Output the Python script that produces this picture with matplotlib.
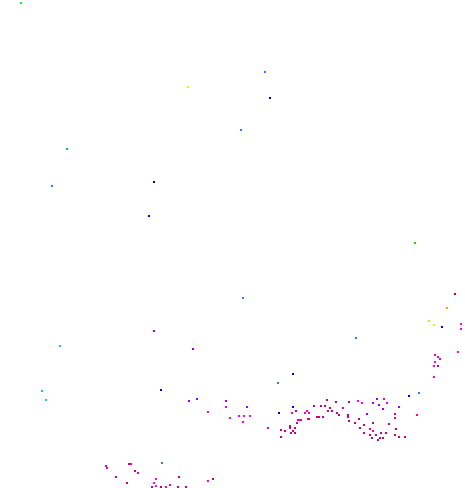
import matplotlib
matplotlib.use("Agg")
import matplotlib.pyplot as plt

# points, grouped by colour (pixel-like units, y down)
green_x = [21, 67, 415]
green_y = [3, 149, 243]
green_c = ["#00ff40", "#00cc66", "#33cc00"]

yellow_x = [188, 434, 429, 447]
yellow_y = [87, 325, 321, 308]
yellow_c = ["#ffee00", "#ffee00", "#aaff00", "#ff9900"]

red_x = [455]
red_y = [294]

cyan_x = [60, 42, 46]
cyan_y = [346, 391, 400]

blue_x = [265, 241, 52, 243, 356, 278, 419, 162]
blue_y = [72, 130, 186, 298, 338, 383, 393, 463]

darkblue_x = [270, 154, 149, 442, 293, 161, 293, 409, 279]
darkblue_y = [98, 182, 216, 327, 374, 390, 407, 396, 413]

purple_x = [154, 193, 189, 197, 226, 247, 296, 373, 379, 383, 377, 399, 367, 373]
purple_y = [331, 349, 401, 399, 401, 407, 411, 403, 405, 409, 399, 407, 414, 423]

magenta_x = [461, 461, 458, 226, 208, 230, 239, 244, 250, 243, 435, 434, 434,
             358, 362, 387, 156, 156, 154, 208]
magenta_y = [324, 329, 352, 407, 412, 418, 416, 416, 416, 422, 362, 366, 377,
             401, 403, 403, 479, 486, 483, 481]

pink_x = [435, 438, 440, 292, 307, 308, 298, 300, 268, 106, 107, 131, 138,
          384, 395, 370, 373, 166, 170, 343, 309, 301, 305, 417, 395]
pink_y = [355, 357, 359, 413, 411, 419, 420, 420, 428, 466, 468, 464, 473,
          399, 418, 429, 431, 487, 485, 408, 413, 420, 413, 415, 414]

dpink_x = [438, 290, 290, 281, 285, 293, 295, 291, 295, 281, 297, 327, 336,
           349, 314, 321, 325, 330, 328, 332, 337, 339, 348, 348, 359, 349,
           317, 319, 323, 309, 355, 360, 364, 364, 370, 376, 381, 386, 395,
           399, 405, 372, 378, 380, 383, 129, 135, 116, 127, 152, 178, 186,
           179, 213, 161, 389, 396]
dpink_y = [366, 426, 428, 430, 431, 431, 428, 433, 433, 437, 423, 400, 402,
           402, 406, 406, 406, 408, 411, 411, 413, 415, 415, 417, 419, 421,
           417, 417, 417, 419, 423, 428, 425, 433, 435, 435, 433, 433, 435,
           437, 437, 438, 440, 438, 438, 464, 471, 477, 483, 487, 487, 487,
           477, 479, 487, 424, 429]

fig = plt.figure(figsize=(4.65, 4.88), dpi=100)
ax = fig.add_axes([0, 0, 1, 1])

ax.scatter(green_x, green_y, c=green_c, s=3, marker="s", linewidths=0)
ax.scatter(yellow_x, yellow_y, c=yellow_c, s=3, marker="s", linewidths=0)
ax.scatter(red_x, red_y, c="#cc0000", s=3, marker="s", linewidths=0)
ax.scatter(cyan_x, cyan_y, c="#00ccff", s=3, marker="s", linewidths=0)
ax.scatter(blue_x, blue_y, c="#3377ff", s=3, marker="s", linewidths=0)
ax.scatter(darkblue_x, darkblue_y, c="#0000cc", s=2, marker="s", linewidths=0)
ax.scatter(purple_x, purple_y, c="#9900ff", s=2, marker="s", linewidths=0)
ax.scatter(magenta_x, magenta_y, c="#ff00ff", s=2, marker="s", linewidths=0)
ax.scatter(pink_x, pink_y, c="#ff0099", s=3, marker="s", linewidths=0)
ax.scatter(dpink_x, dpink_y, c="#cc0077", s=2, marker="s", linewidths=0)

ax.set_xlim(0, 465)
ax.set_ylim(488, 0)
ax.axis("off")

fig.savefig("out.png", dpi=100)
